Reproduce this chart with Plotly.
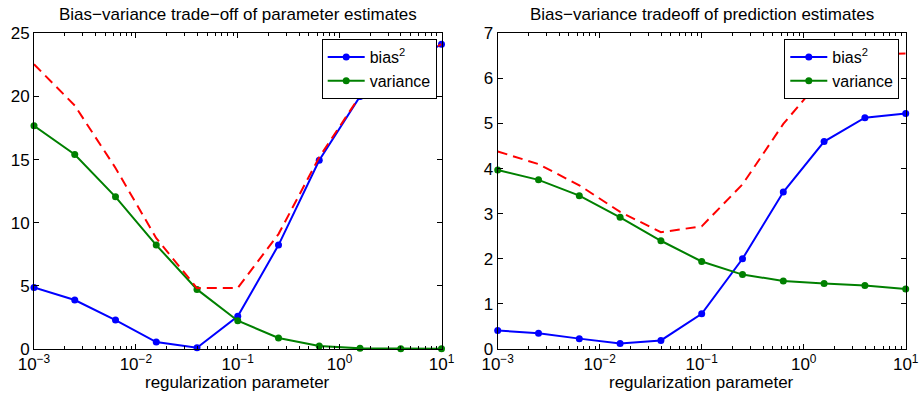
import plotly.graph_objects as go

# ---- data ----
reg = [1e-3, 2.512e-3, 6.310e-3, 1.585e-2, 3.981e-2, 1e-1, 2.512e-1, 6.310e-1, 1.585, 3.981, 10.0]

param_bias2 = [4.88, 3.88, 2.29, 0.55, 0.10, 2.59, 8.23, 14.95, 20.0, 22.4, 24.13]
param_var = [17.67, 15.40, 12.05, 8.23, 4.72, 2.24, 0.87, 0.24, 0.05, 0.02, 0.01]
param_mse = [22.55, 19.28, 14.34, 8.78, 4.82, 4.83, 9.10, 15.19, 20.05, 22.42, 24.14]

pred_bias2 = [0.41, 0.35, 0.23, 0.12, 0.19, 0.78, 2.00, 3.48, 4.60, 5.13, 5.22]
pred_var = [3.97, 3.75, 3.40, 2.92, 2.40, 1.94, 1.65, 1.51, 1.455, 1.41, 1.33]
pred_mse = [4.38, 4.10, 3.63, 3.04, 2.59, 2.72, 3.65, 4.99, 6.055, 6.54, 6.55]

xtick_vals = [1e-3, 1e-2, 1e-1, 1e0, 1e1]
xtick_text = ["10<sup>−3</sup>", "10<sup>−2</sup>", "10<sup>−1</sup>", "10<sup>0</sup>", "10<sup>1</sup>"]
titles = ["Bias−variance trade−off of parameter estimates", "Bias−variance tradeoff of prediction estimates"]
xlabel = "regularization parameter"
series_names = ["bias<sup>2</sup>", "variance"]

# ---- styling ----
FONT = "Liberation Sans, Arial, Helvetica, sans-serif"
FS = 17
BLUE = "rgb(0,0,255)"
GREEN = "rgb(0,128,0)"
RED = "rgb(255,0,0)"

W, H = 920, 405
ytop, ybot = 33.3, 349.0
doms = [(34.0, 441.5), (497.7, 905.7)]
ydom = [(H - ybot) / H, (H - ytop) / H]

minor_vals = [m * 10 ** e for e in range(-3, 1) for m in range(2, 10)]

fig = go.Figure()

panels = [
    (param_bias2, param_var, param_mse, "x", "y", "legend", [0, 25], 5),
    (pred_bias2, pred_var, pred_mse, "x2", "y2", "legend2", [0, 7], 1),
]

for bias, var, mse, xa, ya, lg, yr, dt in panels:
    fig.add_trace(go.Scatter(x=reg, y=bias, mode="lines+markers", name=series_names[0],
                             line=dict(color=BLUE, width=2), marker=dict(color=BLUE, size=7),
                             xaxis=xa, yaxis=ya, legend=lg, cliponaxis=False))
    fig.add_trace(go.Scatter(x=reg, y=var, mode="lines+markers", name=series_names[1],
                             line=dict(color=GREEN, width=2), marker=dict(color=GREEN, size=7),
                             xaxis=xa, yaxis=ya, legend=lg, cliponaxis=False))
    fig.add_trace(go.Scatter(x=reg, y=mse, mode="lines", showlegend=False,
                             line=dict(color=RED, width=2, dash="10px,6px"),
                             xaxis=xa, yaxis=ya, cliponaxis=False))

axis_common = dict(showline=True, linecolor="black", linewidth=1, mirror="ticks",
                   ticks="inside", tickcolor="black", ticklen=5, showgrid=False, zeroline=False,
                   automargin=False,
                   tickfont=dict(family=FONT, size=FS, color="black"))

layout = dict(width=W, height=H, margin=dict(l=0, r=0, t=0, b=0, autoexpand=False),
              paper_bgcolor="white", plot_bgcolor="white",
              font=dict(family=FONT, size=FS, color="black"))

for i, (x0, x1) in enumerate(doms):
    sfx = "" if i == 0 else str(i + 1)
    yr = panels[i][6]
    dt = panels[i][7]
    layout["xaxis" + sfx] = dict(axis_common, type="log", range=[-3, 1], domain=[x0 / W, x1 / W],
                                 tickvals=xtick_vals, ticktext=xtick_text, anchor="y" + sfx,
                                 minor=dict(ticks="inside", ticklen=3, tickcolor="black",
                                            tickvals=minor_vals, showgrid=False))
    layout["yaxis" + sfx] = dict(axis_common, range=yr, dtick=dt, domain=ydom, anchor="x" + sfx)

fig.update_layout(**layout)

legend_style = dict(bgcolor="white", bordercolor="black", borderwidth=1,
                    font=dict(family=FONT, size=16, color="black"),
                    xanchor="right", yanchor="top", tracegroupgap=0, itemwidth=37)
fig.update_layout(
    legend=dict(legend_style, x=436.7 / W, y=(H - 39) / H),
    legend2=dict(legend_style, x=899.3 / W, y=(H - 39) / H),
)

for i, (x0, x1) in enumerate(doms):
    cx = (x0 + x1) / 2 / W
    fig.add_annotation(text=titles[i], x=cx, y=(H - 3) / H, xref="paper", yref="paper",
                       xanchor="center", yanchor="top", showarrow=False,
                       font=dict(family=FONT, size=FS, color="black"))
    fig.add_annotation(text=xlabel, x=cx, y=(H - 371) / H, xref="paper", yref="paper",
                       xanchor="center", yanchor="top", showarrow=False,
                       font=dict(family=FONT, size=FS, color="black"))

fig.write_html("out.html", config={"displayModeBar": False},
               post_script="document.body.style.margin='0px';document.body.style.overflow='hidden';")
